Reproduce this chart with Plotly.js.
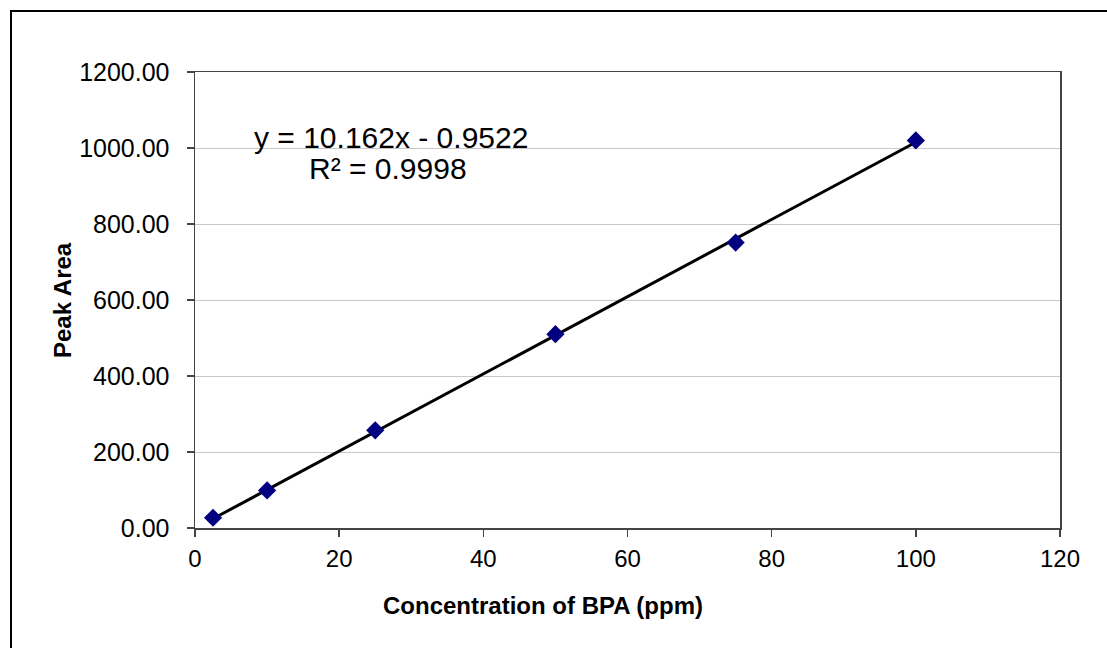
<!DOCTYPE html>
<html>
<head>
<meta charset="utf-8">
<script src="https://cdn.plot.ly/plotly-3.0.1.min.js"></script>
<style>
  html, body { margin: 0; padding: 0; background: #fff; }
  #chart { width: 1107px; height: 648px; }
</style>
</head>
<body>
<div id="chart"></div>
<script>
// Data
const concentration = [2.5, 10, 25, 50, 75, 100];
const peakArea = [27, 99, 257, 510, 751, 1020];

// Linear trendline (as shown in the chart's equation)
const slope = 10.162;
const intercept = -0.9522;
const trendX = [concentration[0], concentration[concentration.length - 1]];
const trendY = trendX.map(x => slope * x + intercept);

const equationText = 'y = 10.162x - 0.9522';
const r2Text = 'R² = 0.9998';
const xTitle = 'Concentration of BPA (ppm)';
const yTitle = 'Peak Area';

const xTicks = [0, 20, 40, 60, 80, 100, 120];
const yTicks = [0, 200, 400, 600, 800, 1000, 1200];
const yTickLabels = yTicks.map(v => v.toFixed(2));

const FONT = 'Liberation Sans, Arial, sans-serif';

const margin = { l: 195, r: 47, t: 72, b: 120 };
const W = 1107, H = 648;
const pw = W - margin.l - margin.r;
const ph = H - margin.t - margin.b;
const px2x = p => (p - margin.l) / pw;
const py2y = p => 1 - (p - margin.t) / ph;

const traces = [
  {
    x: trendX, y: trendY, mode: 'lines', type: 'scatter',
    line: { color: '#000000', width: 3 }, hoverinfo: 'skip', showlegend: false
  },
  {
    x: concentration, y: peakArea, mode: 'markers', type: 'scatter',
    marker: { symbol: 'diamond', color: '#000080', size: 14, line: { width: 0 } },
    showlegend: false
  }
];

const layout = {
  width: W, height: H,
  margin: margin,
  paper_bgcolor: '#ffffff',
  plot_bgcolor: '#ffffff',
  showlegend: false,
  font: { family: FONT, color: '#000000' },
  xaxis: {
    range: [0, 120],
    tickvals: xTicks,
    ticktext: xTicks.map(String),
    ticks: 'outside', ticklen: 7, tickcolor: '#444', tickwidth: 1.5,
    ticklabelstandoff: 2,
    showgrid: false, zeroline: false,
    showline: true, linecolor: '#444', linewidth: 1.5, mirror: true,
    tickfont: { family: FONT, size: 24, color: '#000' }
  },
  yaxis: {
    range: [0, 1200],
    tickvals: yTicks,
    ticktext: yTickLabels,
    ticks: 'outside', ticklen: 7, tickcolor: '#444', tickwidth: 1.5,
    ticklabelstandoff: 12,
    showgrid: true, gridcolor: '#c8c8c8', gridwidth: 1,
    zeroline: false,
    showline: true, linecolor: '#444', linewidth: 1.5, mirror: true,
    tickfont: { family: FONT, size: 25, color: '#000' }
  },
  annotations: [
    {
      xref: 'paper', yref: 'paper', x: px2x(391), y: py2y(137),
      text: equationText, showarrow: false, xanchor: 'center', yanchor: 'middle',
      font: { family: FONT, size: 30, color: '#000' }
    },
    {
      xref: 'paper', yref: 'paper', x: px2x(388), y: py2y(168),
      text: r2Text, showarrow: false, xanchor: 'center', yanchor: 'middle',
      font: { family: FONT, size: 30, color: '#000' }
    },
    {
      xref: 'paper', yref: 'paper', x: px2x(543), y: py2y(605),
      text: '<b>' + xTitle + '</b>', showarrow: false, xanchor: 'center', yanchor: 'middle',
      font: { family: FONT, size: 24, color: '#000' }
    },
    {
      xref: 'paper', yref: 'paper', x: px2x(62), y: py2y(300),
      text: '<b>' + yTitle + '</b>', showarrow: false, xanchor: 'center', yanchor: 'middle',
      textangle: -90,
      font: { family: FONT, size: 24, color: '#000' }
    }
  ],
  shapes: [
    {
      type: 'path', xref: 'paper', yref: 'paper', layer: 'above',
      path: 'M ' + px2x(11) + ' ' + py2y(660) + ' L ' + px2x(11) + ' ' + py2y(11) + ' L ' + px2x(1120) + ' ' + py2y(11),
      line: { color: '#000000', width: 2 }
    }
  ]
};

Plotly.newPlot('chart', traces, layout, { displayModeBar: false, staticPlot: true });
</script>
</body>
</html>
